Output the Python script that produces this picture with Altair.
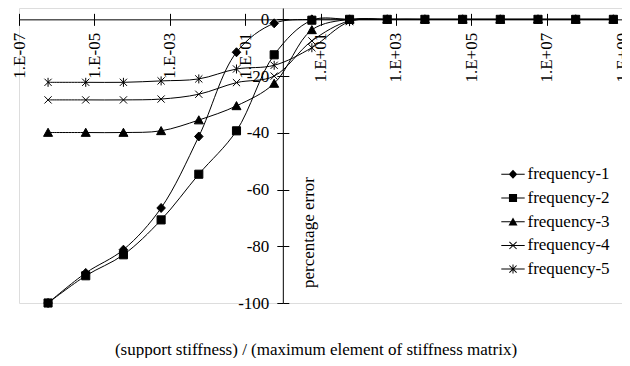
import json
import math
import altair as alt
import pandas as pd

# ---------------- data ----------------
x_values = [5.9e-7, 5.9e-6, 5.9e-5, 5.9e-4, 5.9e-3, 5.9e-2, 5.9e-1, 5.9e0,
            5.9e1, 5.9e2, 5.9e3, 5.9e4, 5.9e5, 5.9e6, 5.9e7, 5.9e8]
series_names = ["frequency-1", "frequency-2", "frequency-3", "frequency-4", "frequency-5"]
freq1 = [-100, -89.4, -81.2, -66.5, -41.3, -11.6, -1.4, 0, 0, 0, 0, 0, 0, 0, 0, 0]
freq2 = [-100, -90.4, -83.0, -70.7, -54.6, -39.3, -12.5, -0.3, 0, 0, 0, 0, 0, 0, 0, 0]
freq3 = [-39.9, -39.9, -39.9, -39.3, -35.5, -30.5, -22.6, -3.7, 0, 0, 0, 0, 0, 0, 0, 0]
freq4 = [-28.4, -28.4, -28.4, -28.1, -26.4, -22.3, -20.0, -7.6, -0.5, 0, 0, 0, 0, 0, 0, 0]
freq5 = [-22.2, -22.2, -22.2, -21.7, -21.0, -17.5, -16.2, -10.0, -0.8, 0, 0, 0, 0, 0, 0, 0]

x_tick_values = [1e-7, 1e-5, 1e-3, 1e-1, 1e1, 1e3, 1e5, 1e7, 1e9]
x_tick_labels = ["1.E-07", "1.E-05", "1.E-03", "1.E-01", "1.E+01", "1.E+03", "1.E+05", "1.E+07", "1.E+09"]
y_tick_values = [0, -20, -40, -60, -80, -100]
y_tick_labels = ["0", "-20", "-40", "-60", "-80", "-100"]

x_title = "(support stiffness) / (maximum element of stiffness matrix)"
y_title = "percentage error"


# ---------------- marker shapes (unit paths) ----------------
def poly(pts):
    area = sum(pts[i][0] * pts[(i + 1) % len(pts)][1] - pts[(i + 1) % len(pts)][0] * pts[i][1]
               for i in range(len(pts)))
    if area < 0:
        pts = pts[::-1]
    return "M" + "L".join(f"{x:.3f},{y:.3f}" for x, y in pts) + "Z"


def seg(x1, y1, x2, y2, t=0.11):
    dx, dy = x2 - x1, y2 - y1
    length = math.hypot(dx, dy)
    nx, ny = -dy / length * t, dx / length * t
    return poly([(x1 + nx, y1 + ny), (x2 + nx, y2 + ny), (x2 - nx, y2 - ny), (x1 - nx, y1 - ny)])


diamond_pts = [(0, -1), (0.95, 0), (0, 1), (-0.95, 0)]
square_pts = [(-0.9, -0.9), (0.9, -0.9), (0.9, 0.9), (-0.9, 0.9)]
triangle_pts = [(0, -0.95), (1, 0.85), (-1, 0.85)]

marker_paths = [
    poly(diamond_pts),
    poly(square_pts),
    poly(triangle_pts),
    "M-0.8,-0.8L0.8,0.8M-0.8,0.8L0.8,-0.8",
    "M-0.8,-0.8L0.8,0.8M-0.8,0.8L0.8,-0.8M0,-1L0,1",
]
# legend symbols drawn with fill only (short line through each marker)
leg_line = seg(-2.6, 0, 2.6, 0)
legend_paths = [
    leg_line + poly(diamond_pts),
    leg_line + poly(square_pts),
    leg_line + poly(triangle_pts),
    leg_line + seg(-0.8, -0.8, 0.8, 0.8) + seg(-0.8, 0.8, 0.8, -0.8),
    leg_line + seg(-0.8, -0.8, 0.8, 0.8) + seg(-0.8, 0.8, 0.8, -0.8) + seg(0, -1, 0, 1),
]

rows = []
for name, vals in zip(series_names, [freq1, freq2, freq3, freq4, freq5]):
    for xv, yv in zip(x_values, vals):
        rows.append({"series": name, "x": xv, "y": yv})
df = pd.DataFrame(rows)

# ---------------- layout ----------------
FONT = "Liberation Serif"
PAD_LEFT = 11
W = 603.0
H = 295.0
y_top = 4
y0px = H * y_top / (y_top + 100)      # pixel row of y = 0
x_axis_px = W * 7 / 16                # pixel column of x = 1

xscale = alt.Scale(type="log", domain=[1e-7, 1e9], nice=False)
yscale = alt.Scale(domain=[-100, y_top], nice=False, zero=False)

x_label_expr = json.dumps(x_tick_labels) + "[round((log(datum.value)/LN10 + 7)/2)]"
y_label_expr = json.dumps(y_tick_labels) + "[round(-datum.value/20)]"

common_axis = dict(grid=False, tickColor="black", domainColor="black", tickWidth=1,
                   domainWidth=1, tickSize=6, labelFont=FONT, labelFontSize=17,
                   labelColor="black", titleFont=FONT, titleFontSize=17,
                   titleColor="black", titleFontWeight="normal")

x_bottom = alt.Axis(orient="bottom", offset=y0px - H, values=x_tick_values,
                    labelExpr=x_label_expr, labelAngle=270, labelAlign="right",
                    labelBaseline="middle", labelPadding=7, labelOverlap=False,
                    labelFlush=False, labelBound=False, title=x_title,
                    titleX=296.5, titleY=335, titleAlign="center",
                    titleBaseline="alphabetic", **common_axis)
y_left = alt.Axis(orient="left", offset=-x_axis_px, values=y_tick_values,
                  labelExpr=y_label_expr, labelPadding=8, labelOverlap=False,
                  labelFlush=False, labelBound=False, title=None, **common_axis)
x_top = alt.Axis(orient="top", offset=-y0px, values=x_tick_values, labels=False,
                 domain=False, title=None, **common_axis)
y_right = alt.Axis(orient="right", offset=x_axis_px - W, values=y_tick_values,
                   labels=False, domain=False, title=y_title, titleAngle=270,
                   titleX=26, titleY=224, titleAlign="center",
                   titleBaseline="middle", **common_axis)

base = alt.Chart(df)

lines = base.mark_line(interpolate="catmull-rom", color="black", strokeWidth=1).encode(
    x=alt.X("x:Q", scale=xscale, axis=x_bottom),
    y=alt.Y("y:Q", scale=yscale, axis=y_left),
    detail="series:N",
)

points = base.mark_point(filled=True, fill="black", stroke="black", strokeWidth=1,
                         opacity=1, size=81).encode(
    x=alt.X("x:Q", scale=xscale, axis=x_top),
    y=alt.Y("y:Q", scale=yscale, axis=y_right),
    shape=alt.Shape("series:N", scale=alt.Scale(domain=series_names, range=marker_paths),
                    legend=None),
)

legend_layer = base.transform_filter("false").mark_point(
    filled=True, fill="black", opacity=1, size=81
).encode(
    shape=alt.Shape(
        "series:N",
        scale=alt.Scale(domain=series_names, range=legend_paths),
        legend=alt.Legend(title=None, orient="none", legendX=485.5, legendY=157.8,
                          symbolSize=81, symbolStrokeWidth=0, symbolFillColor="black",
                          labelOffset=6, rowPadding=5.7, padding=0,
                          labelFont=FONT, labelFontSize=17, labelColor="black"),
    )
)

chart = alt.layer(lines, points, legend_layer).resolve_scale(
    shape="independent"
).resolve_axis(x="independent", y="independent").properties(
    width=W, height=H,
    padding={"left": PAD_LEFT, "top": 0, "right": 0, "bottom": 55},
    autosize=alt.AutoSizeParams(type="none"),
    background="white",
).configure_view(stroke="black", strokeWidth=1).configure(font=FONT)

chart.save("out.html", embed_options={"renderer": "svg", "actions": False})
